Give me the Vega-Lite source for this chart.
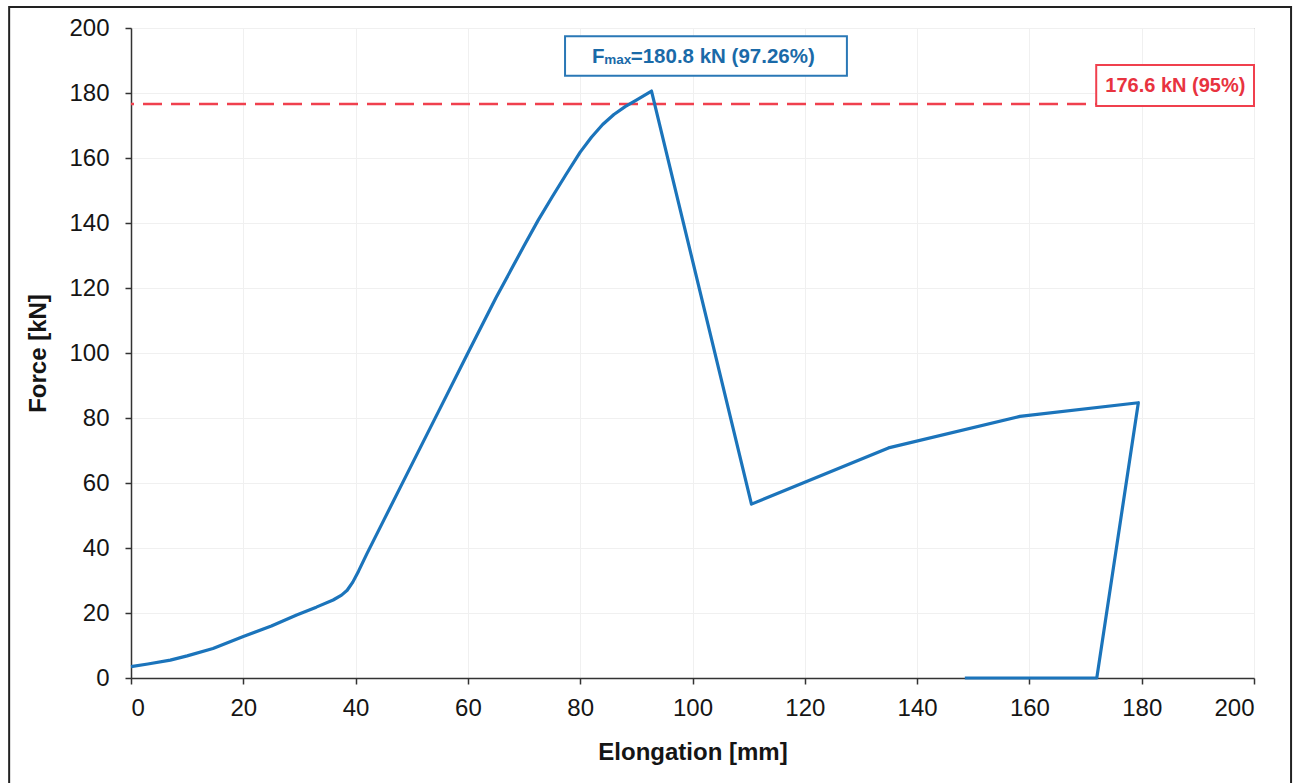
{
  "$schema": "https://vega.github.io/schema/vega-lite/v6.json",
  "width": 1123,
  "height": 650,
  "autosize": "none",
  "padding": {"left": 131, "top": 28, "right": 43, "bottom": 105},
  "background": "white",
  "config": {
    "font": "Liberation Sans",
    "view": {"stroke": "#8a8a8a", "strokeWidth": 1},
    "axis": {
      "labelFont": "Liberation Sans",
      "labelFontSize": 24,
      "labelColor": "#151515",
      "titleFont": "Liberation Sans",
      "titleFontSize": 24,
      "titleFontWeight": "bold",
      "titleColor": "#151515",
      "domainColor": "#333333",
      "domainWidth": 1.5,
      "tickColor": "#333333",
      "tickWidth": 1.5,
      "tickSize": 6,
      "gridColor": "#f0f0f0",
      "gridWidth": 1
    }
  },
  "datasets": {
    "curve": [
      {"seq": 0, "elongation": 0, "force": 3.5},
      {"seq": 1, "elongation": 3, "force": 4.3},
      {"seq": 2, "elongation": 7, "force": 5.5},
      {"seq": 3, "elongation": 10, "force": 6.8},
      {"seq": 4, "elongation": 14.6, "force": 9.1},
      {"seq": 5, "elongation": 20, "force": 12.8},
      {"seq": 6, "elongation": 25, "force": 16},
      {"seq": 7, "elongation": 29.5, "force": 19.4},
      {"seq": 8, "elongation": 33, "force": 21.8},
      {"seq": 9, "elongation": 36, "force": 24},
      {"seq": 10, "elongation": 37.5, "force": 25.5},
      {"seq": 11, "elongation": 38.5, "force": 27},
      {"seq": 12, "elongation": 39.5, "force": 29.5},
      {"seq": 13, "elongation": 40.5, "force": 32.8},
      {"seq": 14, "elongation": 42, "force": 38.2},
      {"seq": 15, "elongation": 45, "force": 48.5},
      {"seq": 16, "elongation": 48, "force": 58.8},
      {"seq": 17, "elongation": 51.5, "force": 70.8},
      {"seq": 18, "elongation": 55, "force": 82.8},
      {"seq": 19, "elongation": 60, "force": 100},
      {"seq": 20, "elongation": 65, "force": 117},
      {"seq": 21, "elongation": 70, "force": 133},
      {"seq": 22, "elongation": 72.5, "force": 140.8},
      {"seq": 23, "elongation": 75, "force": 148},
      {"seq": 24, "elongation": 77.5, "force": 155},
      {"seq": 25, "elongation": 80, "force": 161.8},
      {"seq": 26, "elongation": 82, "force": 166.4},
      {"seq": 27, "elongation": 84, "force": 170.3},
      {"seq": 28, "elongation": 86, "force": 173.4},
      {"seq": 29, "elongation": 88, "force": 175.8},
      {"seq": 30, "elongation": 90, "force": 177.8},
      {"seq": 31, "elongation": 92.7, "force": 180.6},
      {"seq": 32, "elongation": 110.5, "force": 53.5},
      {"seq": 33, "elongation": 134.9, "force": 70.8},
      {"seq": 34, "elongation": 158.3, "force": 80.5},
      {"seq": 35, "elongation": 179.4, "force": 84.7},
      {"seq": 36, "elongation": 172.0, "force": 0},
      {"seq": 37, "elongation": 148.5, "force": 0}
    ],
    "threshold": [{"force": 176.6, "label": "176.6 kN (95%)"}],
    "fmax": [{"F": "F", "sub": "max", "rest": "=180.8 kN (97.26%)"}]
  },
  "layer": [
    {
      "data": {"name": "threshold"},
      "mark": {"type": "rect", "fill": null, "filled": false, "stroke": "#222222", "strokeWidth": 2, "clip": false},
      "encoding": {
        "x": {"datum": -21.7, "type": "quantitative", "scale": {"domain": [0, 200], "nice": false, "zero": false}, "axis": {"values": [0,20,40,60,80,100,120,140,160,180,200], "title": "Elongation [mm]", "grid": true, "labelPadding": 12, "titlePadding": 20}},
        "x2": {"datum": 206.6},
        "y": {"datum": -34, "type": "quantitative", "scale": {"domain": [0, 200], "nice": false, "zero": false}, "axis": {"values": [0,20,40,60,80,100,120,140,160,180,200], "title": "Force [kN]", "grid": true, "labelPadding": 16, "titlePadding": 18}},
        "y2": {"datum": 206.45}
      }
    },
    {
      "data": {"name": "threshold"},
      "mark": {"type": "rule", "color": "#f0404e", "strokeWidth": 2.5, "strokeDash": [19, 9]},
      "encoding": {
        "y": {"field": "force", "type": "quantitative"}
      }
    },
    {
      "data": {"name": "curve"},
      "mark": {"type": "line", "color": "#1b74bb", "strokeWidth": 3.2, "strokeJoin": "round"},
      "encoding": {
        "x": {"field": "elongation", "type": "quantitative"},
        "y": {"field": "force", "type": "quantitative"},
        "order": {"field": "seq", "type": "quantitative"}
      }
    },
    {
      "data": {"name": "threshold"},
      "mark": {"type": "rect", "fill": "white", "stroke": "#f0404e", "strokeWidth": 2},
      "encoding": {
        "x": {"datum": 171.9, "type": "quantitative"},
        "x2": {"datum": 200},
        "y": {"datum": 176.0, "type": "quantitative"},
        "y2": {"datum": 188.6}
      }
    },
    {
      "data": {"name": "threshold"},
      "mark": {"type": "text", "color": "#e8333f", "fontSize": 20, "fontWeight": "bold", "align": "center", "baseline": "middle"},
      "encoding": {
        "x": {"datum": 186, "type": "quantitative"},
        "y": {"datum": 182.3, "type": "quantitative"},
        "text": {"field": "label"}
      }
    },
    {
      "data": {"name": "fmax"},
      "mark": {"type": "rect", "fill": "white", "stroke": "#2a78b6", "strokeWidth": 2},
      "encoding": {
        "x": {"datum": 77.3, "type": "quantitative"},
        "x2": {"datum": 127.5},
        "y": {"datum": 185.3, "type": "quantitative"},
        "y2": {"datum": 197.5}
      }
    },
    {
      "data": {"name": "fmax"},
      "mark": {"type": "text", "color": "#1a6aa8", "fontSize": 20.5, "fontWeight": "bold", "align": "left", "baseline": "alphabetic"},
      "encoding": {
        "x": {"datum": 82.1, "type": "quantitative"},
        "y": {"datum": 189.2, "type": "quantitative"},
        "text": {"field": "F"}
      }
    },
    {
      "data": {"name": "fmax"},
      "mark": {"type": "text", "color": "#1a6aa8", "fontSize": 13.5, "fontWeight": "bold", "align": "left", "baseline": "alphabetic", "dy": 1},
      "encoding": {
        "x": {"datum": 84.3, "type": "quantitative"},
        "y": {"datum": 189.2, "type": "quantitative"},
        "text": {"field": "sub"}
      }
    },
    {
      "data": {"name": "fmax"},
      "mark": {"type": "text", "color": "#1a6aa8", "fontSize": 20.5, "fontWeight": "bold", "align": "left", "baseline": "alphabetic"},
      "encoding": {
        "x": {"datum": 89.0, "type": "quantitative"},
        "y": {"datum": 189.2, "type": "quantitative"},
        "text": {"field": "rest"}
      }
    }
  ]
}
